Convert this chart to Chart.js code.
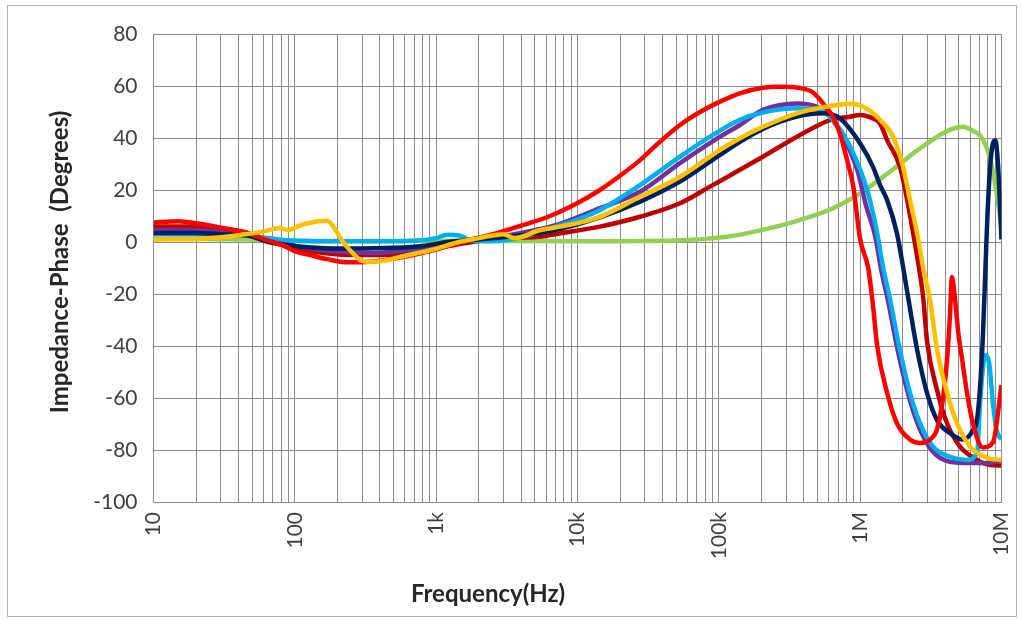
<!DOCTYPE html>
<html>
<head>
<meta charset="utf-8">
<script src="https://cdn.jsdelivr.net/npm/chart.js@4"></script>
<style>
  html, body { margin: 0; padding: 0; background: #ffffff; }
  #wrap { position: absolute; left: 0; top: 0; width: 1021px; height: 619px; }
</style>
</head>
<body>
<div id="wrap"><canvas id="c" width="1021" height="619"></canvas></div>
<script>
// ---- Data (frequency in Hz, phase in degrees) ----
const decadeLabels = ['10', '100', '1k', '10k', '100k', '1M', '10M'];
const yTickStep = 20;
const xTitleText = 'Frequency(Hz)';
const yTitleText = 'Impedance-Phase  (Degrees)';

const redF = [10, 15, 21, 30, 46, 65, 82, 102, 128, 169, 234, 340, 555, 950, 1500, 2400, 4100, 6400, 10400, 14400, 20000, 27700, 38400, 53100, 73600, 102000, 141000, 205000, 271000, 376000, 464000, 546000, 643000, 721000, 808000, 890000, 1000000, 1140000, 1230000, 1320000, 1550000, 1820000, 2250000, 2650000, 3120000, 3500000, 3860000, 4120000, 4320000, 4460000, 4690000, 4950000, 5260000, 5700000, 6290000, 7400000, 8710000, 10000000];
const redV = [7.5, 8, 7, 5.5, 3.5, 0.5, -1.2, -3.7, -5, -6.6, -7.8, -7.6, -6, -3.2, 0, 2.7, 6.5, 10, 15.5, 20, 25.5, 31.5, 38.6, 45, 50, 54, 57.2, 59.3, 59.7, 59.2, 57.5, 53.3, 48, 41.5, 31.5, 22, 1, -10, -24, -40, -58, -69.7, -76, -77.3, -76, -72, -60, -45, -28, -13.5, -22, -35, -45, -58, -70, -79, -77, -55];

const darkRedF = [10, 20, 30, 46, 65, 100, 150, 250, 400, 700, 1100, 1800, 3200, 5400, 7500, 14400, 27700, 53100, 86700, 120000, 205000, 357000, 612000, 848000, 1000000, 1170000, 1380000, 1550000, 1910000, 2150000, 2370000, 2600000, 2800000, 2970000, 3500000, 4120000, 5090000, 6720000, 8290000, 10000000];
const darkRedV = [6, 6, 5, 3.5, 0.5, -2.5, -4, -5, -5, -4, -2, 0, 1.5, 2, 3.3, 5.9, 9.7, 14.9, 21.3, 25.6, 32.8, 40.5, 46.9, 48.2, 48.8, 48, 45.6, 39.2, 29, 16.2, 3.4, -9.5, -22, -38, -57, -69.7, -78.7, -83.8, -85.8, -86];

const purpleF = [10, 20, 30, 46, 65, 100, 150, 209, 357, 622, 1064, 1800, 3171, 5428, 7516, 14400, 27700, 53100, 102000, 141000, 205000, 357000, 495000, 612000, 757000, 950000, 1100000, 1280000, 1400000, 1580000, 1850000, 2200000, 2600000, 3200000, 4300000, 6000000, 8000000, 10000000];
const purpleV = [4.5, 4.5, 4, 3, 1, -1.5, -3, -3.8, -4.2, -3.2, -1, 1, 2.5, 5, 7, 13, 19.3, 30.3, 40.5, 45, 50.8, 53.3, 52, 48.2, 40.5, 28, 14, 2, -10, -23, -42, -59, -71, -80, -84.5, -85, -85, -84];

const navyF = [10, 20, 30, 46, 65, 100, 150, 250, 500, 800, 1200, 2000, 3200, 5400, 7500, 14400, 27700, 53100, 102000, 141000, 205000, 357000, 546000, 721000, 998000, 1230000, 1380000, 1550000, 1820000, 2010000, 2200000, 2530000, 2970000, 3500000, 4320000, 5340000, 6290000, 6720000, 7050000, 7400000, 7700000, 7950000, 8290000, 8710000, 9050000, 9440000, 10000000];
const navyV = [3.5, 3.5, 3, 2.5, 0, -1.5, -2.3, -2.5, -2.2, -1.5, 0, 1, 2, 3.5, 5, 9.5, 15.5, 23.2, 33.5, 38.5, 43.5, 48.2, 49.5, 47.5, 38, 29, 22, 16.2, 3.4, -9.5, -22.3, -41.5, -58, -68.5, -73.5, -76, -72.3, -68, -56, -35, -10, 10, 28, 38, 39, 30, 1];

const blueF = [10, 20, 30, 46, 65, 100, 200, 400, 700, 1000, 1200, 1450, 1800, 2400, 3171, 4100, 5428, 7516, 9290, 14400, 27700, 53100, 86700, 141000, 205000, 357000, 520000, 643000, 848000, 1120000, 1320000, 1450000, 1630000, 1910000, 2250000, 2650000, 3280000, 4320000, 5700000, 6720000, 7050000, 7400000, 7750000, 8200000, 8700000, 9200000, 10000000];
const blueV = [3, 3, 2.8, 2.5, 1.5, 0.5, 0.3, 0.3, 0.5, 1.5, 2.8, 2.5, 0.5, 0.3, 0.8, 2, 3.8, 6.5, 8, 12.3, 21.9, 32.8, 40.5, 47, 49.8, 51.4, 50.8, 46.9, 36.7, 20, 3.4, -9.5, -22.3, -41.5, -58, -69.7, -78.7, -82.6, -83.8, -81, -62, -48, -43.5, -47, -62, -72, -76];

const orangeF = [10, 20, 30, 41, 60, 78, 90, 105, 120, 150, 170, 190, 210, 233, 265, 289, 340, 450, 545, 940, 1476, 2000, 2500, 3000, 3600, 5400, 7516, 14400, 27700, 53100, 102000, 141000, 205000, 357000, 612000, 900000, 1000000, 1170000, 1380000, 1710000, 2010000, 2250000, 2530000, 2780000, 3120000, 3500000, 4120000, 4840000, 5990000, 7890000, 10000000];
const orangeV = [1, 1.2, 1.8, 2.7, 4, 5.4, 4.6, 6, 7, 8.1, 8.2, 5.4, 1.5, -1.8, -5, -6.9, -7.6, -7, -5.8, -3, 0.1, 1.5, 2.5, 3, 1.5, 4.5, 5.9, 9.7, 17.4, 25.1, 35.4, 39.9, 44.3, 49.5, 52.3, 53.2, 52.5, 50.5, 47, 40.5, 29, 16.2, 3.3, -9.5, -22.3, -41.5, -58, -69.7, -78.7, -83, -83.8];

const greenF = [10, 20, 46, 100, 300, 1000, 10000, 50000, 80000, 120000, 166000, 250000, 376000, 643000, 998000, 1450000, 1910000, 2370000, 3000000, 3670000, 4500000, 5340000, 6400000, 7050000, 7890000, 8710000, 9400000, 10000000];
const greenV = [1.2, 1.2, 1, 0.5, 0.3, 0.5, 0.3, 0.6, 1.2, 2.2, 3.6, 5.8, 8.5, 13, 18.7, 25, 30, 34.1, 38, 41.2, 43.5, 44.3, 42.5, 41, 36, 27, 16, 6];

// ---- Build chart ----
const pts = (fs, vs) => fs.map((f, i) => ({ x: f, y: vs[i] }));
const series = [
  { f: orangeF, v: orangeV, color: '#ffc000' },
  { f: redF, v: redV, color: '#ff0000' },
  { f: navyF, v: navyV, color: '#002060' },
  { f: blueF, v: blueV, color: '#00b0f0' },
  { f: purpleF, v: purpleV, color: '#7030a0' },
  { f: darkRedF, v: darkRedV, color: '#c00000' },
  { f: greenF, v: greenV, color: '#92d050' }
];

const xTickValues = [];
for (let e = 1; e <= 6; e++) {
  for (let m = 1; m <= 9; m++) xTickValues.push(m * Math.pow(10, e));
}
xTickValues.push(1e7);

const labelFor = (v) => {
  const e = Math.round(Math.log10(v));
  if (Math.abs(Math.pow(10, e) - v) < 1e-6 * v) return decadeLabels[e - 1];
  return '';
};

const fontFamily = 'Lato, "Liberation Sans", sans-serif';

const outerBorder = {
  id: 'outerBorder',
  beforeDraw(chart) {
    const ctx = chart.ctx;
    ctx.save();
    ctx.fillStyle = '#ffffff';
    ctx.fillRect(0, 0, chart.width, chart.height);
    ctx.strokeStyle = '#b4b4b4';
    ctx.lineWidth = 1;
    ctx.strokeRect(7.5, 5.5, 1009, 611);
    ctx.restore();
  }
};

// Axis titles placed where the original chart has them (off-centre, Excel style)
const axisTitles = {
  id: 'axisTitles',
  afterDraw(chart) {
    const ctx = chart.ctx;
    ctx.save();
    ctx.fillStyle = '#262626';
    ctx.font = 'bold 24px ' + fontFamily;
    ctx.textAlign = 'center';
    ctx.textBaseline = 'middle';
    ctx.fillText(xTitleText, 488, 594);
    ctx.translate(60, 262);
    ctx.rotate(-Math.PI / 2);
    ctx.fillText(yTitleText, 0, 0);
    ctx.restore();
  }
};

const gridColor = '#8e8e8e';
const tickFont = { family: fontFamily, size: 21 };

new Chart(document.getElementById('c'), {
  type: 'line',
  data: {
    datasets: series.map(s => ({
      data: pts(s.f, s.v),
      borderColor: s.color,
      backgroundColor: s.color,
      borderWidth: 4.5,
      pointRadius: 0,
      fill: false,
      cubicInterpolationMode: 'monotone'
    }))
  },
  options: {
    responsive: false,
    animation: false,
    devicePixelRatio: 1,
    layout: { padding: { top: 34, right: 19.5, bottom: 0, left: 0 } },
    plugins: { legend: { display: false }, tooltip: { enabled: false } },
    scales: {
      x: {
        type: 'logarithmic',
        min: 10,
        max: 1e7,
        afterBuildTicks: (s) => { s.ticks = xTickValues.map(v => ({ value: v })); },
        afterFit: (s) => { s.height = 117; s.paddingLeft = 0; s.paddingRight = 0; },
        grid: { color: gridColor, lineWidth: 1, drawTicks: false },
        border: { color: gridColor, width: 1 },
        ticks: {
          autoSkip: false,
          minRotation: 90,
          maxRotation: 90,
          padding: 10,
          color: '#404040',
          font: tickFont,
          callback: (v) => labelFor(v)
        },
        title: { display: false }
      },
      y: {
        min: -100,
        max: 80,
        afterFit: (s) => { s.width = 153.5; s.paddingTop = 0; s.paddingBottom = 0; },
        grid: { color: gridColor, lineWidth: 1, drawTicks: false },
        border: { color: gridColor, width: 1 },
        ticks: {
          stepSize: yTickStep,
          padding: 16,
          color: '#404040',
          font: tickFont
        },
        title: { display: false }
      }
    }
  },
  plugins: [outerBorder, axisTitles]
});
</script>
</body>
</html>
